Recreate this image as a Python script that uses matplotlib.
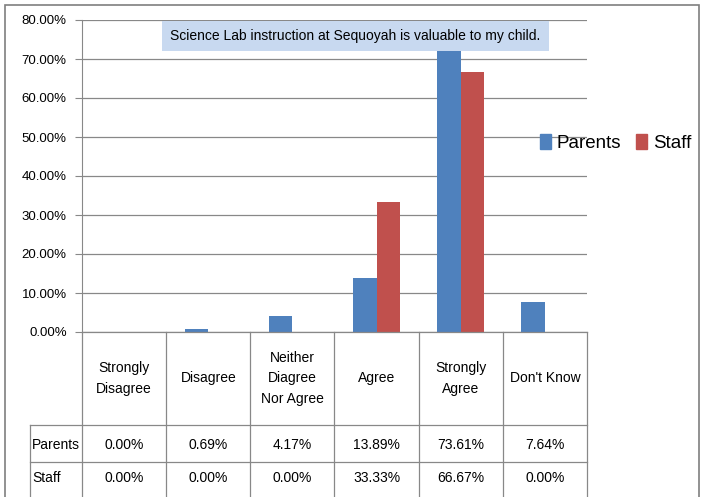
import matplotlib.pyplot as plt
import numpy as np
from matplotlib.patches import Rectangle
from matplotlib.lines import Line2D

categories = ["Strongly\nDisagree", "Disagree", "Neither\nDiagree\nNor Agree",
              "Agree", "Strongly\nAgree", "Don't Know"]
parents = [0.00, 0.69, 4.17, 13.89, 73.61, 7.64]
staff = [0.00, 0.00, 0.00, 33.33, 66.67, 0.00]
series_names = ["Parents", "Staff"]
yticks = [0, 10, 20, 30, 40, 50, 60, 70, 80]
title = "Science Lab instruction at Sequoyah is valuable to my child."

plt.rcParams['font.family'] = ['Liberation Sans', 'DejaVu Sans']

blue = "#4f81bd"
red = "#c0504d"
grid_c = "#888888"

fig = plt.figure(figsize=(7.02, 4.97), dpi=100)
ax = fig.add_axes([82 / 702, 1 - 332 / 497, 505 / 702, 312 / 497])

x = np.arange(len(categories))
w = 0.28
ax.bar(x - w / 2, parents, w, color=blue, zorder=2)
ax.bar(x + w / 2, staff, w, color=red, zorder=2)

ax.set_xlim(-0.5, len(categories) - 0.5)
ax.set_ylim(0, 80)
ax.set_yticks(yticks)
ax.set_yticklabels([f"{v:.2f}%" for v in yticks], fontsize=9.5)
ax.yaxis.grid(True, color=grid_c, linewidth=0.9, zorder=0)
ax.set_xticks([])
for s in ["top", "right", "bottom"]:
    ax.spines[s].set_visible(False)
ax.spines["left"].set_color(grid_c)
ax.tick_params(axis="y", color=grid_c, length=5, pad=6)

# title box (drawn over the tall bar)
ax.text(2.75, 75.9, title, ha="center", va="center", fontsize=10, zorder=5,
        bbox=dict(boxstyle="square,pad=0.6", facecolor="#c8d9f0", edgecolor="none"))

# data table below the axis
tr = ax.get_xaxis_transform()
rows = [0, -0.298, -0.417, -0.56]
left_x = -1.12
for b in np.arange(-0.5, len(categories), 1.0):
    ax.add_line(Line2D([b, b], [0, rows[-1]], transform=tr, color=grid_c, lw=0.9, clip_on=False))
ax.add_line(Line2D([left_x, left_x], [rows[1], rows[-1]], transform=tr, color=grid_c, lw=0.9, clip_on=False))
for r in rows[1:3]:
    ax.add_line(Line2D([left_x, len(categories) - 0.5], [r, r], transform=tr, color=grid_c, lw=0.9, clip_on=False))
ax.add_line(Line2D([-0.5, len(categories) - 0.5], [0, 0], transform=tr, color=grid_c, lw=0.9, clip_on=False))

for i, c in enumerate(categories):
    ax.text(i, (rows[0] + rows[1]) / 2, c, transform=tr, ha="center", va="center",
            fontsize=10, linespacing=1.6)
for row_i, (name, vals) in enumerate(zip(series_names, [parents, staff])):
    yc = (rows[row_i + 1] + rows[row_i + 2]) / 2 + (-0.005 if row_i == 0 else 0.02)
    ax.text(left_x + 0.03, yc, name, transform=tr, ha="left", va="center", fontsize=10)
    for i, v in enumerate(vals):
        ax.text(i, yc, f"{v:.2f}%", transform=tr, ha="center", va="center", fontsize=10)

# legend
handles = [Rectangle((0, 0), 1, 1, color=blue), Rectangle((0, 0), 1, 1, color=red)]
fig.legend(handles, series_names, loc="center left", bbox_to_anchor=(0.745, 0.712),
           ncol=2, frameon=False, fontsize=13.5, handlelength=0.6, handleheight=0.8,
           handletextpad=0.3, columnspacing=0.8)

# outer border
fig.add_artist(Rectangle((5 / 702, -0.01), 694 / 702, 1 - 5 / 497 + 0.01, transform=fig.transFigure,
                         fill=False, edgecolor="#7f7f7f", lw=1.2))

fig.savefig("out.png", dpi=100)
